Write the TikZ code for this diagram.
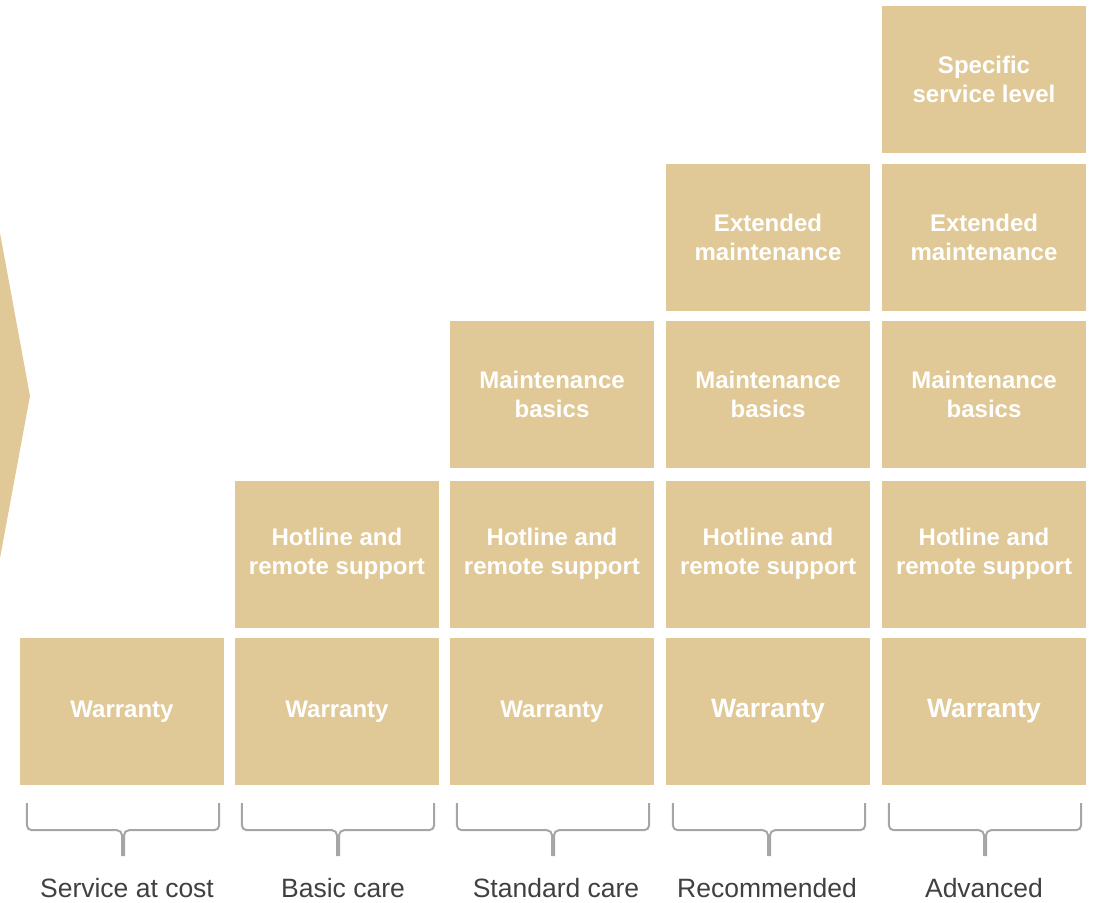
\documentclass[tikz,border=0pt]{standalone}
\usepackage{fontspec}
\setmainfont{Liberation Sans}
\definecolor{boxc}{HTML}{E0C997}
\definecolor{bracec}{HTML}{A6A6A6}
\definecolor{labc}{HTML}{404040}
\begin{document}
\begin{tikzpicture}[x=1pt,y=-1pt,
  tier/.style={fill=boxc,draw=none,minimum width=204pt,minimum height=147pt,inner sep=0pt,
    align=center,text=white,font=\bfseries\fontsize{24}{29}\selectfont},
  tierbig/.style={tier,font=\bfseries\fontsize{26.5}{30}\selectfont},
  lab/.style={text=labc,font=\fontsize{26.5}{30}\selectfont,inner sep=0pt,anchor=base},
  bracepath/.style={draw=bracec,line width=2pt,rounded corners=5pt}]
\useasboundingbox (0,0) rectangle (1097,902);
% chevron arrow on left
\fill[boxc] (0,233) -- (30,396) -- (0,558) -- cycle;
% column 1
\node[tier] (c1r1) at (122,711.5) {Warranty};
% column 2
\node[tier] (c2r1) at (337,711.5) {Warranty};
\node[tier] (c2r2) at (337,554) {Hotline and\\remote support};
% column 3
\node[tier] (c3r1) at (552,711.5) {Warranty};
\node[tier] (c3r2) at (552,554) {Hotline and\\remote support};
\node[tier] (c3r3) at (552,394.5) {Maintenance\\basics};
% column 4
\node[tierbig] (c4r1) at (768,711.5) {Warranty};
\node[tier] (c4r2) at (768,554) {Hotline and\\remote support};
\node[tier] (c4r3) at (768,394.5) {Maintenance\\basics};
\node[tier] (c4r4) at (768,237) {Extended\\maintenance};
% column 5
\node[tierbig] (c5r1) at (984,711.5) {Warranty};
\node[tier] (c5r2) at (984,554) {Hotline and\\remote support};
\node[tier] (c5r3) at (984,394.5) {Maintenance\\basics};
\node[tier] (c5r4) at (984,237) {Extended\\maintenance};
\node[tier] (c5r5) at (984,79) {Specific\\service level};
% braces
\foreach \n in {1,...,5}{
  \coordinate (bl\n) at ([xshift=7pt,yshift=-18pt]c\n r1.south west);
  \coordinate (br\n) at ([xshift=-5pt,yshift=-18pt]c\n r1.south east);
  \coordinate (bc\n) at ([xshift=1pt,yshift=-18pt]c\n r1.south);
  \draw[bracepath] (bl\n) -- ([yshift=-27pt]bl\n) -- ([yshift=-27pt,xshift=-1pt]bc\n)
     -- ([yshift=-53pt,xshift=-1pt]bc\n);
  \draw[bracepath] (br\n) -- ([yshift=-27pt]br\n) -- ([yshift=-27pt,xshift=1pt]bc\n)
     -- ([yshift=-53pt,xshift=1pt]bc\n);
}
% labels
\node[lab] (l1) at (127,897) {Service at cost};
\node[lab] (l2) at (343,897) {Basic care};
\node[lab] (l3) at (556,897) {Standard care};
\node[lab] (l4) at (767,897) {Recommended};
\node[lab] (l5) at (984,897) {Advanced};
\end{tikzpicture}
\end{document}
